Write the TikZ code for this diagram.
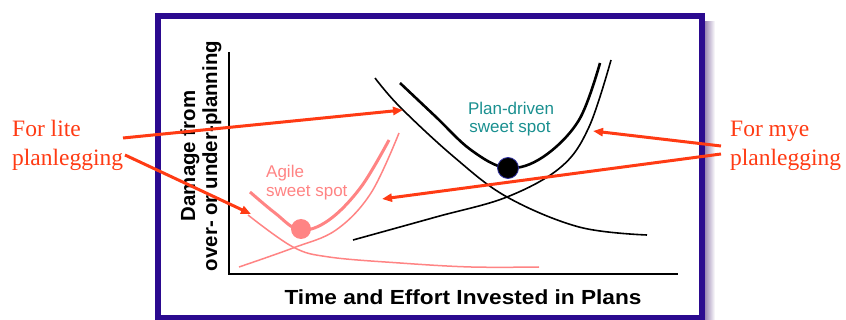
\documentclass[tikz,border=0pt]{standalone}
\usepackage{fontspec}
\setmainfont{Liberation Serif}
\newfontfamily\arialf{Liberation Sans}
\usetikzlibrary{arrows.meta}
\definecolor{framec}{HTML}{2B0A8F}
\definecolor{shadowc}{HTML}{9C88B4}
\definecolor{redarr}{HTML}{FF3B14}
\definecolor{pinkc}{HTML}{FF8484}
\definecolor{tealc}{HTML}{1A9090}
\definecolor{dotrim}{HTML}{3030A0}
\tikzset{
  blackthin/.style={line width=1.6pt, black},
  blackthick/.style={line width=2.6pt, black},
  pinkthin/.style={line width=1.5pt, pinkc},
  pinkthick/.style={line width=3pt, pinkc},
  redarrow/.style={line width=3pt, redarr, -{Triangle[length=10pt,width=8pt]}},
  redlabel/.style={font=\fontsize{23.5}{28}\selectfont, text=redarr, inner sep=0pt, anchor=base west},
  axislabel/.style={font=\arialf\bfseries\fontsize{20.4}{22}\selectfont, inner sep=0pt},
  tealtext/.style={font=\arialf\fontsize{17}{18}\selectfont, text=tealc, inner sep=0pt, anchor=base},
  pinktext/.style={font=\arialf\fontsize{17}{18}\selectfont, text=pinkc, inner sep=0pt, anchor=base west},
}
\begin{document}
\begin{tikzpicture}[x=1pt,y=-1pt]
\useasboundingbox (0,0) rectangle (846,320);
% shadow and frame
\shade[left color=shadowc, right color=white] (705,22) rectangle (715,320);
\fill[white] (158,16) rectangle (702,318);
\draw[framec, line width=6pt] (158,16) rectangle (702,318);
% axes
\draw[line width=2pt] (229,52) -- (229,274) -- (678,274);
% axis labels
\node[axislabel, rotate=90, align=center] (ylab) at (201,156) {Damage from\\over- or under-planning};
\node[axislabel, xscale=1.11, transform shape] (xlab) at (463,297) {Time and Effort Invested in Plans};
% black curves
\draw[blackthin] plot[smooth, tension=0.6] coordinates {(375,78) (400,107) (454,157) (507,197) (579,227) (647,235)};
\draw[blackthick] plot[smooth, tension=0.6] coordinates {(400,83) (436,117) (471,150) (507,168) (543,157) (579,120) (600,63)};
\draw[blackthin] plot[smooth, tension=0.6] coordinates {(353,240) (436,217) (507,197) (561,167) (589,127) (611,60)};
% pink curves
\draw[pinkthin] plot[smooth, tension=0.6] coordinates {(248,215) (293,247) (329,257) (400,263) (471,267) (539,267)};
\draw[pinkthin] plot[smooth, tension=0.6] coordinates {(239,267) (293,248) (336,230) (371,193) (399,133)};
\draw[pinkthick] plot[smooth, tension=0.6] coordinates {(250,192) (275,213) (300,230) (329,220) (361,187) (389,140)};
% sweet spots
\node[circle, fill=black, draw=dotrim, line width=0.8pt, minimum size=21pt, inner sep=0pt] (pdot) at (508,168) {};
\node[circle, fill=pinkc, minimum size=20pt, inner sep=0pt] (adot) at (301,229) {};
% texts
\node[tealtext] (plan1) at (511,115) {Plan-driven};
\node[tealtext] (plan2) at (510,132.5) {sweet spot};
\node[pinktext] (agile1) at (266,178) {Agile};
\node[pinktext] (agile2) at (266,197) {sweet spot};
% red labels
\node[redlabel] (lite1) at (12,137) {For lite};
\node[redlabel] (lite2) at (12,166) {planlegging};
\node[redlabel] (mye1) at (730,137) {For mye};
\node[redlabel] (mye2) at (730,166) {planlegging};
% arrow ends
\coordinate (s1) at (123,138);
\coordinate (s2) at (125,155);
\coordinate (s3) at (721,146);
\coordinate (s4) at (721,154);
\coordinate (t1) at (403,110);
\coordinate (t2) at (251,214);
\coordinate (t3) at (593,131);
\coordinate (t4) at (382,199);
\draw[redarrow] (s1) -- (t1);
\draw[redarrow] (s2) -- (t2);
\draw[redarrow] (s3) -- (t3);
\draw[redarrow] (s4) -- (t4);
\end{tikzpicture}
\end{document}
